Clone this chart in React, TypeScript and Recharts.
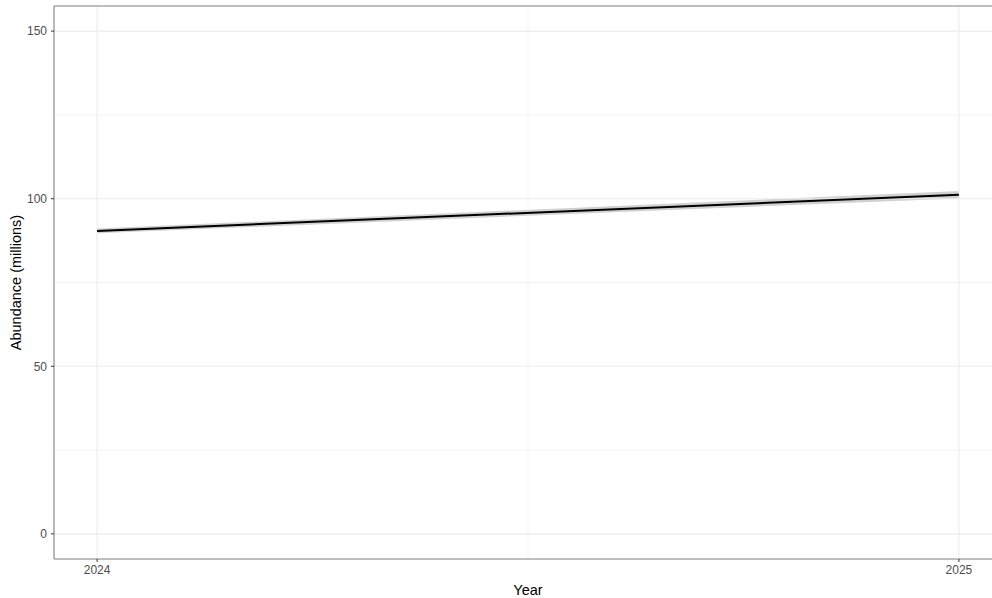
import { ComposedChart, Line, Area, XAxis, YAxis, ReferenceLine } from 'recharts';

const years = [2024, 2025];
const abundance = [90.4, 101.2];
const lower = [89.7, 100.1];
const upper = [91.1, 102.3];

const xTicks = [2024, 2025];
const xMinor = [2024.5];
const yTicks = [0, 50, 100, 150];
const yMinor = [25, 75, 125];

const data = years.map((year, i) => ({
  year,
  value: abundance[i],
  band: [lower[i], upper[i]],
}));

const border = '#7f7f7f';
const grid = '#ebebeb';
const tickText = { fontSize: 12, fill: '#4d4d4d', fontFamily: 'Liberation Sans, Arial, sans-serif' };

export default function App() {
  return (
    <div
      style={{
        position: 'absolute',
        left: 0,
        top: 0,
        width: 992,
        height: 598,
        overflow: 'hidden',
        background: '#fff',
        fontFamily: 'Liberation Sans, Arial, sans-serif',
      }}
    >
      <ComposedChart
        width={1010}
        height={598}
        data={data}
        margin={{ top: 6, right: 8, bottom: 0, left: 0 }}
      >
        {yMinor.map((v) => (
          <ReferenceLine key={`ym${v}`} y={v} stroke={grid} strokeWidth={0.6} />
        ))}
        {xMinor.map((v) => (
          <ReferenceLine key={`xm${v}`} x={v} stroke={grid} strokeWidth={0.6} />
        ))}
        {yTicks.map((v) => (
          <ReferenceLine key={`y${v}`} y={v} stroke={grid} strokeWidth={1.1} />
        ))}
        {xTicks.map((v) => (
          <ReferenceLine key={`x${v}`} x={v} stroke={grid} strokeWidth={1.1} />
        ))}
        <ReferenceLine y={157.5} stroke={border} strokeWidth={1.1} />
        <XAxis
          dataKey="year"
          type="number"
          domain={[2023.95, 2025.05]}
          ticks={xTicks}
          allowDataOverflow
          height={39}
          tickSize={3}
          tickMargin={3}
          tick={tickText}
          tickLine={{ stroke: '#333333' }}
          axisLine={{ stroke: border, strokeWidth: 1.1 }}
          label={{
            value: 'Year',
            position: 'insideBottom',
            offset: 3,
            style: { fontSize: 14.5, fill: '#000', fontFamily: 'Liberation Sans, Arial, sans-serif' },
          }}
        />
        <YAxis
          type="number"
          domain={[-7.5, 157.5]}
          ticks={yTicks}
          allowDataOverflow
          width={54}
          tickSize={3}
          tickMargin={4}
          tick={tickText}
          tickLine={{ stroke: '#333333' }}
          axisLine={{ stroke: border, strokeWidth: 1.1 }}
          label={{
            value: 'Abundance (millions)',
            angle: -90,
            position: 'insideLeft',
            offset: 16,
            style: {
              textAnchor: 'middle',
              fontSize: 14.5,
              fill: '#000',
              fontFamily: 'Liberation Sans, Arial, sans-serif',
            },
          }}
        />
        <Area
          dataKey="band"
          type="linear"
          stroke="none"
          fill="#999999"
          fillOpacity={0.45}
          isAnimationActive={false}
        />
        <Line
          dataKey="value"
          type="linear"
          stroke="#000000"
          strokeWidth={2}
          dot={false}
          isAnimationActive={false}
        />
      </ComposedChart>
    </div>
  );
}
